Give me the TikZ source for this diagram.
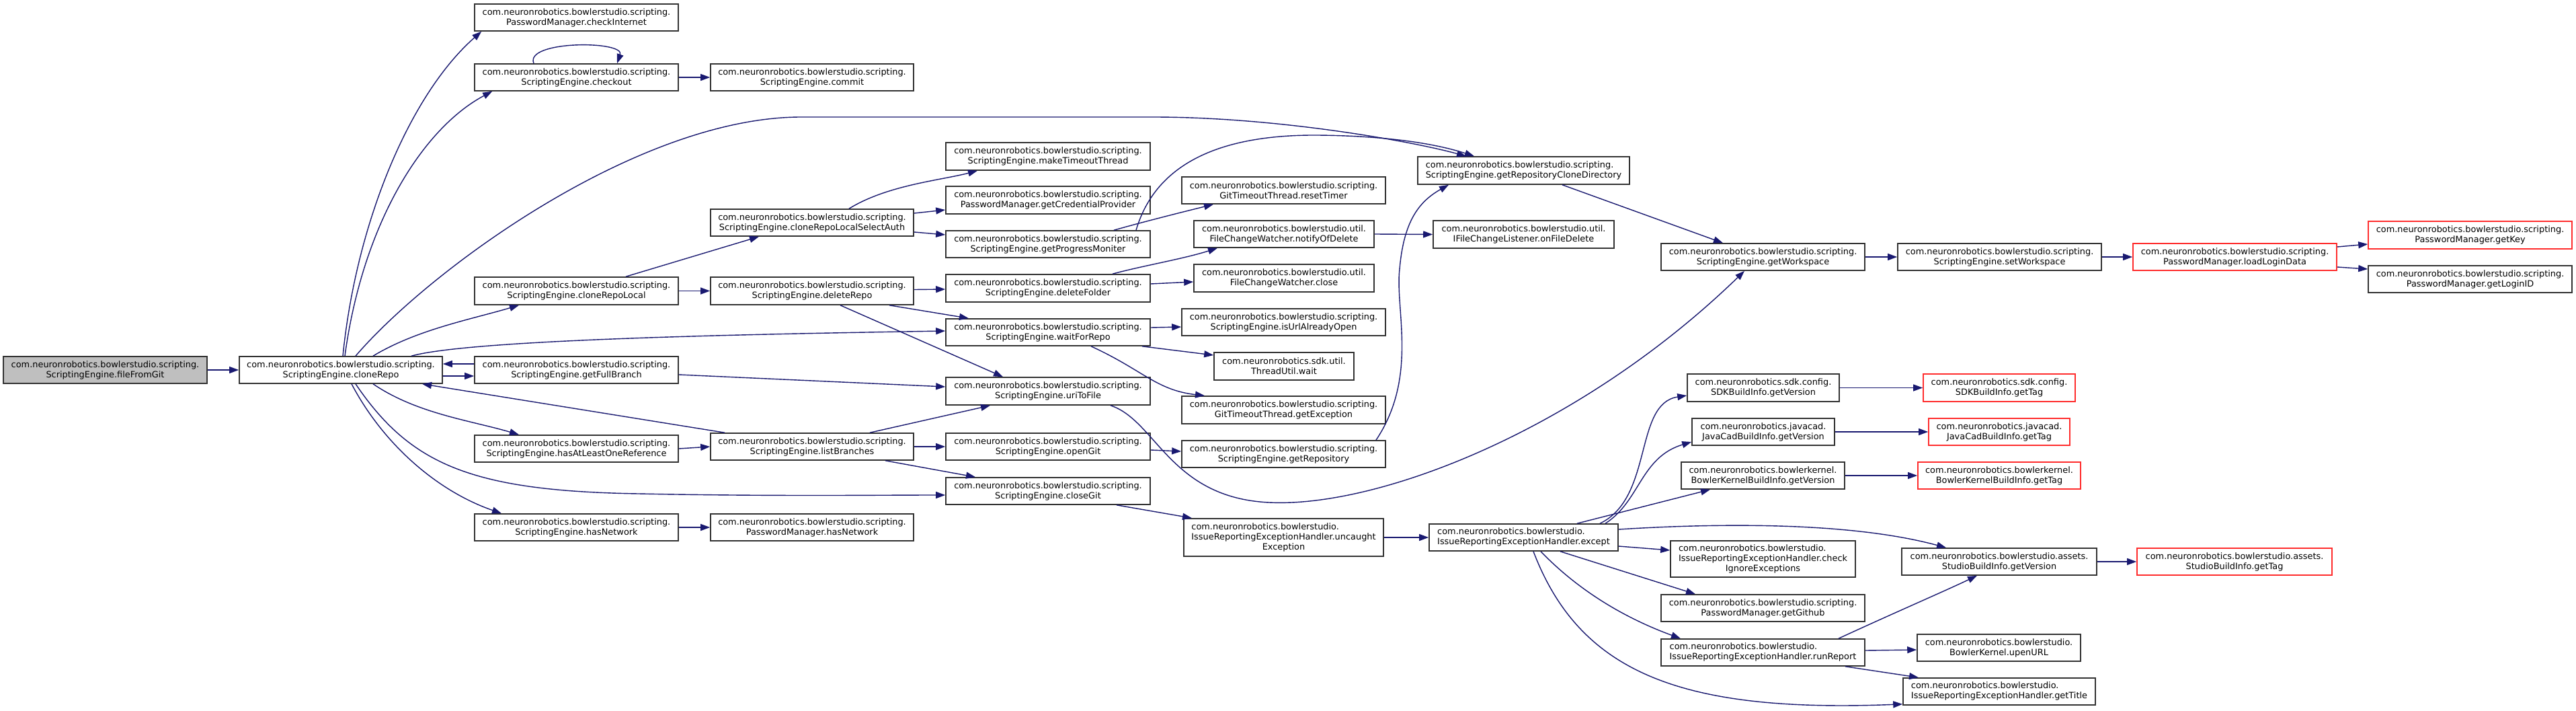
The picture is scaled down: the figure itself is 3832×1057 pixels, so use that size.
\documentclass[tikz,border=0pt]{standalone}
\usepackage{fontspec}
\setmainfont{DejaVu Sans}
\usetikzlibrary{arrows.meta,calc}
\definecolor{edgeblue}{HTML}{191970}
\definecolor{boxred}{RGB}{255,45,45}
\definecolor{greyfill}{HTML}{BFBFBF}
\newcommand{\lt}[2]{\begin{tabular}{@{}l@{}}#1\\#2\end{tabular}}
\newcommand{\ltc}[3]{\begin{tabular}{@{}l@{}}#1\\#2\\\multicolumn{1}{@{}c@{}}{#3}\end{tabular}}
\tikzset{
  nbox/.style={draw=black!80, line width=1.6pt, fill=white, inner sep=0pt,
    minimum width=303pt, minimum height=40pt, align=center,
    font=\fontsize{12.9}{15}\selectfont},
  rbox/.style={nbox, draw=boxred},
  wd/.style={minimum width=#1pt},
  ht/.style={minimum height=#1pt},
  call/.style={draw=edgeblue, line width=1.4pt, -{Triangle[length=14pt,width=10pt]}}
}
\begin{document}
\begin{tikzpicture}[x=1pt,y=-1pt]
\useasboundingbox[fill=white] (0,0) rectangle (3832,1057);
\def\P{com.neuronrobotics.bowlerstudio.scripting.}
% column 1-2
\node[nbox, fill=greyfill] (ffg) at (156.5,550) {\P\\ScriptingEngine.fileFromGit};
\node[nbox, wd=302] (cr) at (507,550) {\P\\ScriptingEngine.cloneRepo};
% column 3
\node[nbox] (chkI) at (857.5,26) {\P\\PasswordManager.checkInternet};
\node[nbox] (chko) at (857.5,115) {\P\\ScriptingEngine.checkout};
\node[nbox, ht=41] (crl) at (857.5,432.5) {\P\\ScriptingEngine.cloneRepoLocal};
\node[nbox] (gfb) at (857.5,550) {\P\\ScriptingEngine.getFullBranch};
\node[nbox] (haor) at (857.5,667) {\P\\ScriptingEngine.hasAtLeastOneReference};
\node[nbox] (hnse) at (857.5,784) {\P\\ScriptingEngine.hasNetwork};
% column 4
\node[nbox, wd=302] (commit) at (1208,115) {\P\\ScriptingEngine.commit};
\node[nbox, wd=302] (crlsa) at (1208,331) {\P\\ScriptingEngine.cloneRepoLocalSelectAuth};
\node[nbox, wd=302, ht=41] (delr) at (1208,432.5) {\P\\ScriptingEngine.deleteRepo};
\node[nbox, wd=302] (lb) at (1208,664) {\P\\ScriptingEngine.listBranches};
\node[nbox, wd=302] (hnpm) at (1208,784) {\P\\PasswordManager.hasNetwork};
% column 5
\node[nbox, wd=304, ht=41] (mtt) at (1559,232.5) {\P\\ScriptingEngine.makeTimeoutThread};
\node[nbox, wd=304, ht=41] (gcp) at (1559,297.5) {\P\\PasswordManager.getCredentialProvider};
\node[nbox, wd=304] (gpm) at (1559,363) {\P\\ScriptingEngine.getProgressMoniter};
\node[nbox, wd=304, ht=41] (delf) at (1559,428.5) {\P\\ScriptingEngine.deleteFolder};
\node[nbox, wd=304] (wfr) at (1559,494) {\P\\ScriptingEngine.waitForRepo};
\node[nbox, wd=304, ht=41] (u2f) at (1559,581.5) {\P\\ScriptingEngine.uriToFile};
\node[nbox, wd=304] (og) at (1559,664) {\P\\ScriptingEngine.openGit};
\node[nbox, wd=304] (cg) at (1559,730) {\P\\ScriptingEngine.closeGit};
% column 6
\node[nbox] (rt) at (1909.5,283) {\P\\GitTimeoutThread.resetTimer};
\node[nbox, wd=268] (nod) at (1910,348) {com.neuronrobotics.bowlerstudio.util.\\FileChangeWatcher.notifyOfDelete};
\node[nbox, wd=268, ht=41] (fcwc) at (1910,413.5) {com.neuronrobotics.bowlerstudio.util.\\FileChangeWatcher.close};
\node[nbox] (iuao) at (1909.5,479) {\P\\ScriptingEngine.isUrlAlreadyOpen};
\node[nbox, wd=208, ht=41] (tuw) at (1910,544.5) {com.neuronrobotics.sdk.util.\\ThreadUtil.wait};
\node[nbox, ht=41] (gex) at (1909.5,609.5) {\P\\GitTimeoutThread.getException};
\node[nbox] (grep) at (1909.5,675) {\P\\ScriptingEngine.getRepository};
\node[nbox, wd=297, ht=56] (uex) at (1909.5,799) {\ltc{com.neuronrobotics.bowlerstudio.}{IssueReportingExceptionHandler.uncaught}{Exception}};
% column 7
\node[nbox, wd=315, ht=41] (grcd) at (2266.5,253.5) {\lt{\P}{ScriptingEngine.getRepositoryCloneDirectory}};
\node[nbox, wd=269, ht=41] (ofd) at (2266.5,348.5) {com.neuronrobotics.bowlerstudio.util.\\IFileChangeListener.onFileDelete};
\node[nbox, wd=281] (exc) at (2266.5,799) {\lt{com.neuronrobotics.bowlerstudio.}{IssueReportingExceptionHandler.except}};
% column 8
\node[nbox] (gws) at (2622.5,382) {\P\\ScriptingEngine.getWorkspace};
\node[nbox, wd=226, ht=41] (sdkv) at (2623,576.5) {com.neuronrobotics.sdk.config.\\SDKBuildInfo.getVersion};
\node[nbox, wd=212] (jcv) at (2623,642) {com.neuronrobotics.javacad.\\JavaCadBuildInfo.getVersion};
\node[nbox, wd=243] (bkv) at (2622.5,707) {com.neuronrobotics.bowlerkernel.\\BowlerKernelBuildInfo.getVersion};
\node[nbox, wd=275, ht=54] (cie) at (2622.5,831) {\ltc{com.neuronrobotics.bowlerstudio.}{IssueReportingExceptionHandler.check}{IgnoreExceptions}};
\node[nbox] (ggh) at (2622.5,904) {\P\\PasswordManager.getGithub};
\node[nbox] (rr) at (2622.5,970) {\lt{com.neuronrobotics.bowlerstudio.}{IssueReportingExceptionHandler.runReport}};
% column 9
\node[nbox] (sws) at (2974.5,382) {\P\\ScriptingEngine.setWorkspace};
\node[rbox, wd=226, ht=41] (sdkt) at (2974,576.5) {com.neuronrobotics.sdk.config.\\SDKBuildInfo.getTag};
\node[rbox, wd=210] (jct) at (2974,642) {com.neuronrobotics.javacad.\\JavaCadBuildInfo.getTag};
\node[rbox, wd=242] (bkt) at (2974,707) {com.neuronrobotics.bowlerkernel.\\BowlerKernelBuildInfo.getTag};
\node[nbox, wd=290] (sbv) at (2974,835) {com.neuronrobotics.bowlerstudio.assets.\\StudioBuildInfo.getVersion};
\node[nbox, wd=243] (upen) at (2973.5,963) {com.neuronrobotics.bowlerstudio.\\BowlerKernel.upenURL};
\node[nbox, wd=286] (gtit) at (2974,1028) {\lt{com.neuronrobotics.bowlerstudio.}{IssueReportingExceptionHandler.getTitle}};
% column 10-11
\node[rbox] (lld) at (3324.5,382) {\P\\PasswordManager.loadLoginData};
\node[rbox, wd=290] (sbt) at (3324,835) {com.neuronrobotics.bowlerstudio.assets.\\StudioBuildInfo.getTag};
\node[rbox, ht=41] (gkey) at (3674.5,349.5) {\P\\PasswordManager.getKey};
\node[nbox] (glid) at (3674.5,415) {\P\\PasswordManager.getLoginID};

% edges
\draw[call] (ffg.east) -- (cr.west);
\draw[call] ($(cr.north)+(3,0)$) .. controls (530,330) and (610,140) .. ($(chkI.south west)+(11,0)$);
\draw[call] ($(cr.north)+(6,0)$) .. controls (540,330) and (630,190) .. ($(chko.south west)+(27,0)$);
\draw[call] ($(chko.north)+(-63.5,0)$) .. controls (780,60) and (930,60) .. ($(chko.north)+(60.5,0)$);
\draw[call] (chko.east) -- (commit.west);
\draw[call] ($(cr.north)+(22,0)$) .. controls (640,400) and (950,174) .. (1192,174) -- (1715,174) .. controls (1900,174) and (2100,210) .. ($(grcd.north)+(-85.5,0)$);
\draw[call] ($(gpm.north)+(131,0)$) .. controls (1720,240) and (1820,200) .. (1960,201) .. controls (2070,202) and (2140,215) .. ($(grcd.north)+(-73.5,0)$);
\draw[call] ($(grep.north)+(137.5,0)$) .. controls (2110,560) and (2075,460) .. (2082,400) .. controls (2088,330) and (2110,300) .. ($(grcd.south)+(-111.5,0)$);
\draw[call] ($(grcd.south)+(57.5,0)$) -- ($(gws.north)+(-59.5,0)$);
\draw[call] (gws.east) -- (sws.west);
\draw[call] (sws.east) -- (lld.west);
\draw[call] ($(lld.east)+(0,-15)$) -- ($(gkey.west)+(0,13.5)$);
\draw[call] ($(lld.east)+(0,15)$) -- ($(glid.west)+(0,-15)$);
\draw[call] ($(cr.north)+(48,0)$) .. controls (620,490) and (700,475) .. ($(crl.south)+(-85.5,0)$);
\draw[call] ($(crl.north)+(73.5,0)$) -- ($(crlsa.south)+(-79,0)$);
\draw[call] (crl.east) -- (delr.west);
\draw[call] ($(crlsa.north)+(55,0)$) .. controls (1320,275) and (1400,268) .. ($(mtt.south)+(-105,0)$);
\draw[call] ($(crlsa.east)+(0,-14)$) -- ($(gcp.west)+(0,14.5)$);
\draw[call] ($(crlsa.east)+(0,14)$) -- ($(gpm.west)+(0,-14)$);
\draw[call] ($(gpm.north)+(98,0)$) .. controls (1700,330) and (1760,315) .. ($(rt.south)+(-104.5,0)$);
\draw[call] ($(delr.east)+(0,-2)$) -- ($(delf.west)+(0,1.5)$);
\draw[call] ($(delr.south)+(115,0)$) -- ($(wfr.north)+(-118,0)$);
\draw[call] ($(delr.south)+(42,0)$) -- ($(u2f.north)+(-67,0)$);
\draw[call] ($(delf.north)+(96,0)$) .. controls (1700,395) and (1760,385) .. ($(nod.south)+(-99,0)$);
\draw[call] ($(delf.east)+(0,-6.5)$) -- ($(fcwc.west)+(0,5.5)$);
\draw[call] (nod.east) -- (ofd.west);
\draw[call] ($(cr.north)+(105,0)$) .. controls (700,505) and (1100,497) .. ($(wfr.west)+(0,-2)$);
\draw[call] ($(gfb.west)+(0,-9)$) -- ($(cr.east)+(0,-9)$);
\draw[call] ($(cr.east)+(0,9)$) -- ($(gfb.west)+(0,9)$);
\draw[call] ($(gfb.east)+(0,7)$) -- ($(u2f.west)+(0,-6.5)$);
\draw[call] ($(lb.north)+(-130,0)$) -- ($(cr.south)+(121,0)$);
\draw[call] ($(cr.south)+(48,0)$) .. controls (620,615) and (700,625) .. ($(haor.north)+(-85.5,0)$);
\draw[call] (haor.east) -- (lb.west);
\draw[call] ($(lb.north)+(86,0)$) -- ($(u2f.south)+(-86,0)$);
\draw[call] (lb.east) -- (og.west);
\draw[call] ($(lb.south)+(109,0)$) -- ($(cg.north)+(-108,0)$);
\draw[call] ($(cr.south)+(22,0)$) .. controls (610,690) and (700,730) .. (950,734) .. controls (1150,738) and (1300,736) .. ($(cg.west)+(0,6)$);
\draw[call] ($(cr.south)+(16,0)$) .. controls (570,660) and (650,730) .. ($(hnse.north)+(-111.5,0)$);
\draw[call] (hnse.east) -- (hnpm.west);
\draw[call] ($(wfr.east)+(0,-7)$) -- ($(iuao.west)+(0,7)$);
\draw[call] ($(wfr.south)+(140,0)$) -- ($(tuw.west)+(0,-16.5)$);
\draw[call] ($(wfr.south)+(64,0)$) .. controls (1700,550) and (1720,580) .. ($(gex.north)+(-117.5,0)$);
\draw[call] ($(og.east)+(0,5)$) -- ($(grep.west)+(0,-4)$);
\draw[call] ($(u2f.south)+(93,0)$) .. controls (1720,625) and (1740,740) .. (1888,747) .. controls (2050,755) and (2350,640) .. ($(gws.south)+(-27.5,0)$);
\draw[call] ($(cg.south)+(102,0)$) -- ($(uex.north)+(-136.5,0)$);
\draw[call] (uex.east) -- (exc.west);
\draw[call] ($(exc.north)+(113.5,0)$) .. controls (2460,740) and (2430,600) .. ($(sdkv.west)+(0,11.5)$);
\draw[call] ($(exc.north)+(121.5,0)$) .. controls (2440,745) and (2440,680) .. ($(jcv.west)+(0,15)$);
\draw[call] ($(exc.north)+(79.5,0)$) -- ($(bkv.south)+(-78.5,0)$);
\draw[call] ($(exc.east)+(0,-12)$) .. controls (2550,778) and (2750,775) .. ($(sbv.north)+(-79,0)$);
\draw[call] ($(exc.east)+(0,13)$) -- ($(cie.west)+(0,-13)$);
\draw[call] ($(exc.south)+(54.5,0)$) -- ($(ggh.north)+(-100.5,0)$);
\draw[call] ($(exc.south)+(25.5,0)$) .. controls (2350,880) and (2420,920) .. ($(rr.north)+(-122.5,0)$);
\draw[call] ($(exc.south)+(14.5,0)$) .. controls (2350,1000) and (2500,1060) .. ($(gtit.south west)+(0,-2)$);
\draw[call] ($(rr.north)+(112.5,0)$) .. controls (2820,910) and (2890,880) .. ($(sbv.south)+(-33,0)$);
\draw[call] ($(rr.east)+(0,-3)$) -- ($(upen.west)+(0,3)$);
\draw[call] ($(rr.south)+(122.5,0)$) -- ($(gtit.north)+(-120,0)$);
\draw[call] (sdkv.east) -- (sdkt.west);
\draw[call] (jcv.east) -- (jct.west);
\draw[call] (bkv.east) -- (bkt.west);
\draw[call] (sbv.east) -- (sbt.west);
\end{tikzpicture}
\end{document}
